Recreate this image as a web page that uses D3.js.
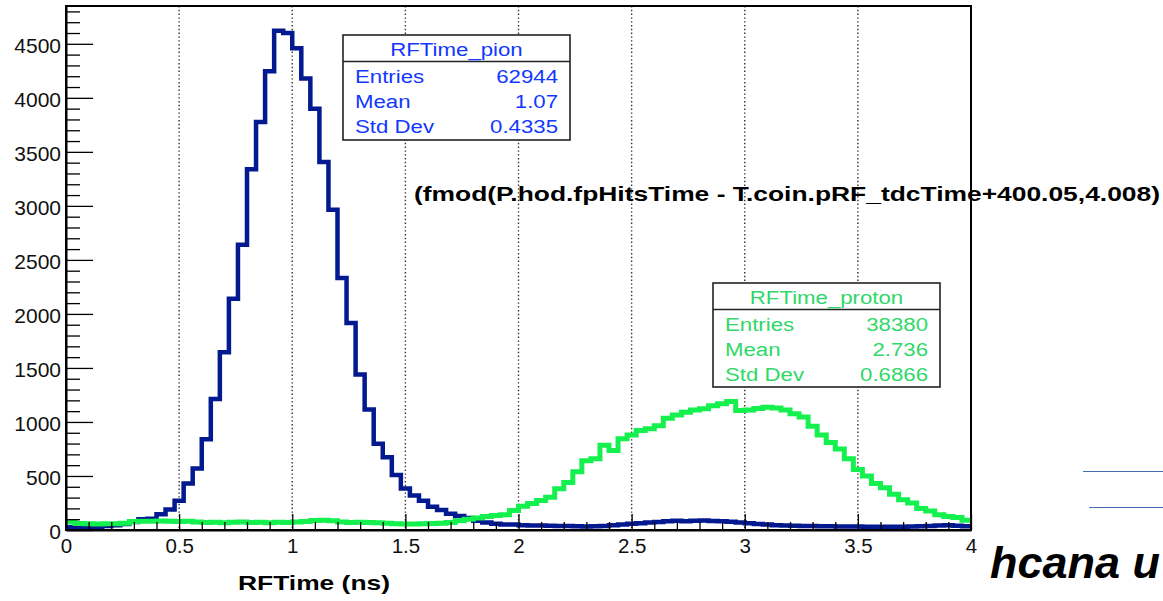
<!DOCTYPE html>
<html>
<head>
<meta charset="utf-8">
<script src="https://cdn.jsdelivr.net/npm/d3@7"></script>
<style>
body { margin: 0; background: white; }
svg { display: block; font-family: "Liberation Sans", Arial, sans-serif; }
</style>
</head>
<body>
<main></main>
<script>
/* histogram contents, 100 bins from 0 to 4 ns */
let xMin = 0
let xMax = 4
let binWidth = 0.04

let pionCounts = [
    25, 22, 25, 30, 38, 45, 55, 75, 100, 104,
    145, 190, 270, 430, 570, 840, 1212, 1646, 2141, 2641,
    3340, 3776, 4245, 4620, 4600, 4460, 4178, 3900, 3406, 2965,
    2332, 1915, 1440, 1115, 798, 674, 508, 385, 320, 270,
    215, 185, 150, 130, 110, 85, 70, 57, 52, 50,
    45, 42, 42, 40, 38, 36, 34, 33, 35, 38,
    45, 52, 58, 62, 70, 75, 80, 85, 82, 86,
    88, 84, 80, 76, 70, 62, 55, 50, 45, 42,
    40, 38, 36, 35, 34, 33, 32, 32, 30, 31,
    30, 30, 31, 33, 35, 38, 42, 45, 40, 35
]

let protonCounts = [
    75, 60, 58, 55, 57, 58, 62, 78, 82, 80,
    84, 80, 78, 82, 74, 70, 72, 68, 72, 74,
    70, 72, 68, 72, 70, 74, 78, 88, 90, 86,
    74, 70, 72, 70, 66, 62, 58, 56, 55, 58,
    60, 62, 70, 85, 100, 110, 125, 134, 140, 180,
    220, 245, 273, 304, 381, 440, 540, 640, 660, 785,
    736, 844, 880, 920, 937, 965, 1035, 1065, 1091, 1110,
    1122, 1150, 1168, 1190, 1105, 1110, 1125, 1137, 1130, 1110,
    1076, 1045, 960, 880, 810, 750, 660, 560, 500, 430,
    390, 330, 280, 250, 200, 175, 140, 125, 115, 90
]

let xTicks = [0, 0.5, 1, 1.5, 2, 2.5, 3, 3.5, 4]
let xTickLabels = ["0", "0.5", "1", "1.5", "2", "2.5", "3", "3.5", "4"]
let yTicks = [0, 500, 1000, 1500, 2000, 2500, 3000, 3500, 4000, 4500]
let yMax = 4850

let pionStats = [["Entries", "62944"], ["Mean", "1.07"], ["Std Dev", "0.4335"]]
let protonStats = [["Entries", "38380"], ["Mean", "2.736"], ["Std Dev", "0.6866"]]

const svgWidth = 1163
const svgHeight = 601

const frameLeft = 66
const frameTop = 6
const frameRight = 971
const frameBottom = 530

const pionColor = "#03198f"
const pionText = "#1238ff"
const protonColor = "#14f04e"
const protonText = "#2fd868"

let svg = d3.select("main")
    .append("svg")
    .attr("width", svgWidth)
    .attr("height", svgHeight)
    .style("background-color", "white")

/* scales */

let xScale = d3.scaleLinear()
    .domain([xMin, xMax])
    .range([frameLeft, frameRight])

let yScale = d3.scaleLinear()
    .domain([0, yMax])
    .range([frameBottom, frameTop])

/* dotted grid on x */

svg.append("g")
    .selectAll("line")
    .data(xTicks.slice(1, -1))
    .enter()
    .append("line")
    .attr("x1", (d) => xScale(d))
    .attr("x2", (d) => xScale(d))
    .attr("y1", frameTop)
    .attr("y2", frameBottom)
    .attr("stroke", "#333")
    .attr("stroke-width", 1.4)
    .attr("stroke-dasharray", "1.4,2.4")

/* histograms */

svg.append("clipPath")
    .attr("id", "plotClip")
    .append("rect")
    .attr("x", frameLeft)
    .attr("y", frameTop)
    .attr("width", frameRight - frameLeft)
    .attr("height", frameBottom - frameTop + 2)

let histLine = d3.line()
    .x((d) => xScale(d[0]))
    .y((d) => yScale(d[1]))
    .curve(d3.curveStepAfter)

let stepPoints = (counts) => counts.map((c, i) => [xMin + i * binWidth, c])
    .concat([[xMax, counts[counts.length - 1]]])

let hists = svg.append("g").attr("clip-path", "url(#plotClip)")

hists.append("path")
    .attr("d", histLine(stepPoints(pionCounts)))
    .attr("fill", "none")
    .attr("stroke", pionColor)
    .attr("stroke-width", 4.5)

hists.append("path")
    .attr("d", histLine(stepPoints(protonCounts)))
    .attr("fill", "none")
    .attr("stroke", protonColor)
    .attr("stroke-width", 5)

/* frame */

svg.append("rect")
    .attr("x", frameLeft)
    .attr("y", frameTop)
    .attr("width", frameRight - frameLeft)
    .attr("height", frameBottom - frameTop)
    .attr("fill", "none")
    .attr("stroke", "black")
    .attr("stroke-width", 2)

/* axes */

let leftAxis = d3.axisLeft(yScale)
    .tickValues(yTicks)
    .tickFormat((d) => String(d))
    .tickSizeInner(-27)
    .tickSizeOuter(0)
    .tickPadding(5)

let yAxis = svg.append("g")
    .attr("transform", `translate(${frameLeft}, 0)`)
    .call(leftAxis)

let leftMinor = d3.axisLeft(yScale)
    .tickValues(d3.range(0, yMax, 100).filter((v) => v % 500 != 0))
    .tickSizeInner(-14)
    .tickSizeOuter(0)
    .tickFormat("")

svg.append("g")
    .attr("transform", `translate(${frameLeft}, 0)`)
    .call(leftMinor)
    .select("path").remove()

let bottomAxis = d3.axisBottom(xScale)
    .tickValues(xTicks)
    .tickFormat((d, i) => xTickLabels[i])
    .tickSizeInner(-16)
    .tickSizeOuter(0)
    .tickPadding(8)

let xAxis = svg.append("g")
    .attr("transform", `translate(0, ${frameBottom})`)
    .call(bottomAxis)

let bottomMinor = d3.axisBottom(xScale)
    .tickValues(d3.range(1, 40).filter((v) => v % 5 != 0).map((v) => v / 10))
    .tickSizeInner(-8)
    .tickSizeOuter(0)
    .tickFormat("")

svg.append("g")
    .attr("transform", `translate(0, ${frameBottom})`)
    .call(bottomMinor)
    .select("path").remove()

svg.selectAll(".domain")
    .attr("stroke", "black")
    .attr("stroke-width", 2)

svg.selectAll(".tick line")
    .attr("stroke", "black")
    .attr("stroke-width", 1.3)

yAxis.selectAll("text")
    .attr("dy", "0.42em")
    .attr("font-size", "21px")
    .attr("fill", "#111")

xAxis.selectAll("text")
    .attr("font-size", "20.5px")
    .attr("fill", "#111")

/* stat boxes, text is a bit wider than the font, as in the picture */

const statStretch = 1.17

function statText(g, x, y, anchor, color, label) {
    g.append("text")
        .attr("transform", `translate(${x}, ${y}) scale(${statStretch}, 1)`)
        .attr("text-anchor", anchor)
        .attr("fill", color)
        .attr("font-size", "19px")
        .text(label)
}

function drawStats(name, rows, color, x, y, w, h) {
    let box = svg.append("g")
        .attr("transform", `translate(${x}, ${y})`)

    box.append("rect")
        .attr("width", w)
        .attr("height", h)
        .attr("fill", "white")
        .attr("stroke", "#222")
        .attr("stroke-width", 1.6)

    box.append("line")
        .attr("x1", 0)
        .attr("x2", w)
        .attr("y1", 26.5)
        .attr("y2", 26.5)
        .attr("stroke", "#222")
        .attr("stroke-width", 1.6)

    statText(box, w / 2, 21, "middle", color, name)

    rows.forEach((d, i) => {
        statText(box, 12, 48 + i * 25, "start", color, d[0])
        statText(box, w - 12, 48 + i * 25, "end", color, d[1])
    })
}

drawStats("RFTime_pion", pionStats, pionText, 343, 35, 227, 105)
drawStats("RFTime_proton", protonStats, protonText, 713, 283, 227, 104)

/* titles */

svg.append("text")
    .attr("x", 414)
    .attr("y", 201)
    .attr("textLength", 746)
    .attr("lengthAdjust", "spacingAndGlyphs")
    .attr("font-size", "20.5px")
    .attr("font-weight", "bold")
    .attr("fill", "black")
    .text("(fmod(P.hod.fpHitsTime - T.coin.pRF_tdcTime+400.05,4.008)")

svg.append("text")
    .attr("x", 238)
    .attr("y", 590)
    .attr("textLength", 152)
    .attr("lengthAdjust", "spacingAndGlyphs")
    .attr("font-size", "20.5px")
    .attr("font-weight", "bold")
    .attr("fill", "black")
    .text("RFTime (ns)")

svg.append("text")
    .attr("x", 990)
    .attr("y", 578)
    .attr("font-size", "45px")
    .attr("font-weight", "bold")
    .attr("font-style", "italic")
    .attr("fill", "black")
    .text("hcana u")

/* stray lines at the right edge */

svg.append("line")
    .attr("x1", 1083).attr("x2", svgWidth)
    .attr("y1", 471.5).attr("y2", 471.5)
    .attr("stroke", "#4a6eb0")
    .attr("stroke-width", 1.2)

svg.append("line")
    .attr("x1", 1089).attr("x2", svgWidth)
    .attr("y1", 507.5).attr("y2", 507.5)
    .attr("stroke", "#4a6eb0")
    .attr("stroke-width", 1.2)
</script>
</body>
</html>
